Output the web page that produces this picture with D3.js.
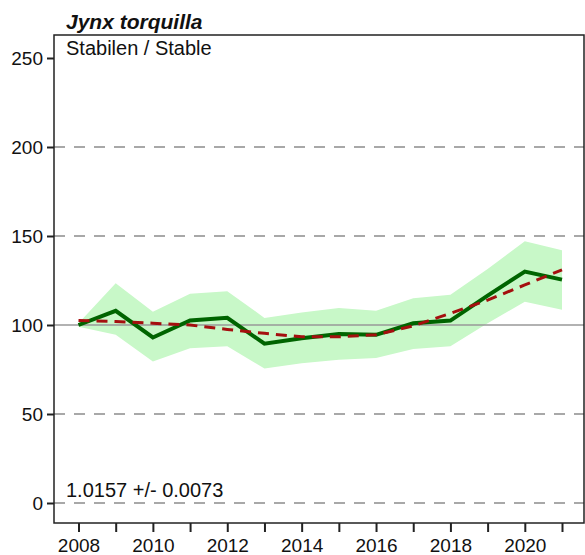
<!DOCTYPE html>
<html>
<head>
<meta charset="utf-8">
<script src="https://cdn.jsdelivr.net/npm/d3@7"></script>
<style>
  body { margin: 0; background: #fff; }
  text { font-family: Arial, "Liberation Sans", sans-serif; }
</style>
</head>
<body>
<script>
// chart data
var years = [2008, 2009, 2010, 2011, 2012, 2013, 2014, 2015, 2016, 2017, 2018, 2019, 2020, 2021];
var index = [100, 108, 93, 102.5, 104, 89.5, 92.5, 95, 94.5, 101, 102.5, 116.5, 130, 125.5];
var trend = [102.5, 102, 101, 100, 97.5, 95.3, 93.4, 93.4, 94.5, 99.5, 106.5, 114, 122.5, 131];
var upper = [101, 123.5, 107.5, 117.5, 119, 104, 107, 109.5, 108, 115, 117, 131.5, 147, 142];
var lower = [99, 94.5, 79.5, 87, 88, 75.5, 78.5, 80.5, 81.5, 86.5, 88, 101, 113, 108.5];
var yTicks = [0, 50, 100, 150, 200, 250];
var gridVals = [0, 50, 150, 200];
var xLabels = [2008, 2010, 2012, 2014, 2016, 2018, 2020];

var title = "Jynx torquilla";
var subtitle = "Stabilen / Stable";
var slope = "1.0157 +/- 0.0073";

var W = 585, H = 555;
var box = {left: 54, top: 35, right: 584, bottom: 523};
var fontFam = "Arial, 'Liberation Sans', sans-serif";

var svg = d3.select("body").append("svg")
    .attr("width", W)
    .attr("height", H);

var x = d3.scaleLinear().domain([2008, 2021]).range([78.5, 562]);
var y = d3.scaleLinear().domain([0, 250]).range([503, 58]);

var rows = years.map(function(d, i) {
    return {year: d, index: index[i], trend: trend[i], hi: upper[i], lo: lower[i]};
});

// confidence band
svg.append("path")
    .datum(rows)
    .attr("fill", "#c8f8c8")
    .attr("d", d3.area()
        .x(function(d) { return x(d.year); })
        .y0(function(d) { return y(d.lo); })
        .y1(function(d) { return y(d.hi); }));

// grid lines
svg.selectAll(".grid")
    .data(gridVals)
    .enter().append("line")
    .attr("x1", box.left)
    .attr("x2", box.right)
    .attr("y1", function(d) { return y(d); })
    .attr("y2", function(d) { return y(d); })
    .attr("stroke", "#a8a8a8")
    .attr("stroke-width", 2)
    .attr("stroke-dasharray", "11,9");

// reference line at 100
svg.append("line")
    .attr("x1", box.left)
    .attr("x2", box.right)
    .attr("y1", y(100))
    .attr("y2", y(100))
    .attr("stroke", "#999")
    .attr("stroke-width", 1.5);

// index line
svg.append("path")
    .datum(rows)
    .attr("fill", "none")
    .attr("stroke", "#006400")
    .attr("stroke-width", 4)
    .attr("d", d3.line()
        .x(function(d) { return x(d.year); })
        .y(function(d) { return y(d.index); }));

// trend line
svg.append("path")
    .datum(rows)
    .attr("fill", "none")
    .attr("stroke", "#a50f0f")
    .attr("stroke-width", 3)
    .attr("stroke-dasharray", "11,7")
    .attr("d", d3.line()
        .x(function(d) { return x(d.year); })
        .y(function(d) { return y(d.trend); }));

// frame
svg.append("rect")
    .attr("x", box.left)
    .attr("y", box.top)
    .attr("width", box.right - box.left)
    .attr("height", box.bottom - box.top)
    .attr("fill", "none")
    .attr("stroke", "#222")
    .attr("stroke-width", 1.5);

// y axis
var yAxis = svg.append("g")
    .attr("transform", "translate(" + box.left + ",0)")
    .call(d3.axisLeft(y).tickValues(yTicks).tickSize(7).tickPadding(4));
yAxis.select(".domain").remove();
yAxis.selectAll(".tick line").attr("stroke", "#222").attr("stroke-width", 2);
yAxis.selectAll(".tick text")
    .attr("fill", "#111")
    .style("font-size", "19px")
    .style("font-family", fontFam);

// x axis
var xAxis = svg.append("g")
    .attr("transform", "translate(0," + box.bottom + ")")
    .call(d3.axisBottom(x).tickValues(years).tickSize(9).tickPadding(7)
        .tickFormat(function(d) { return xLabels.indexOf(d) >= 0 ? d : ""; }));
xAxis.select(".domain").remove();
xAxis.selectAll(".tick line").attr("stroke", "#222").attr("stroke-width", 2);
xAxis.selectAll(".tick text")
    .attr("fill", "#111")
    .style("font-size", "19px")
    .style("font-family", fontFam);

// texts
svg.append("text")
    .attr("x", 66)
    .attr("y", 29)
    .style("font-size", "21px")
    .attr("font-weight", "bold")
    .attr("font-style", "italic")
    .attr("fill", "#111")
    .text(title);

svg.append("text")
    .attr("x", 66)
    .attr("y", 55)
    .style("font-size", "20px")
    .attr("fill", "#111")
    .text(subtitle);

svg.append("text")
    .attr("x", 66)
    .attr("y", 497)
    .style("font-size", "20px")
    .attr("fill", "#111")
    .text(slope);
</script>
</body>
</html>
